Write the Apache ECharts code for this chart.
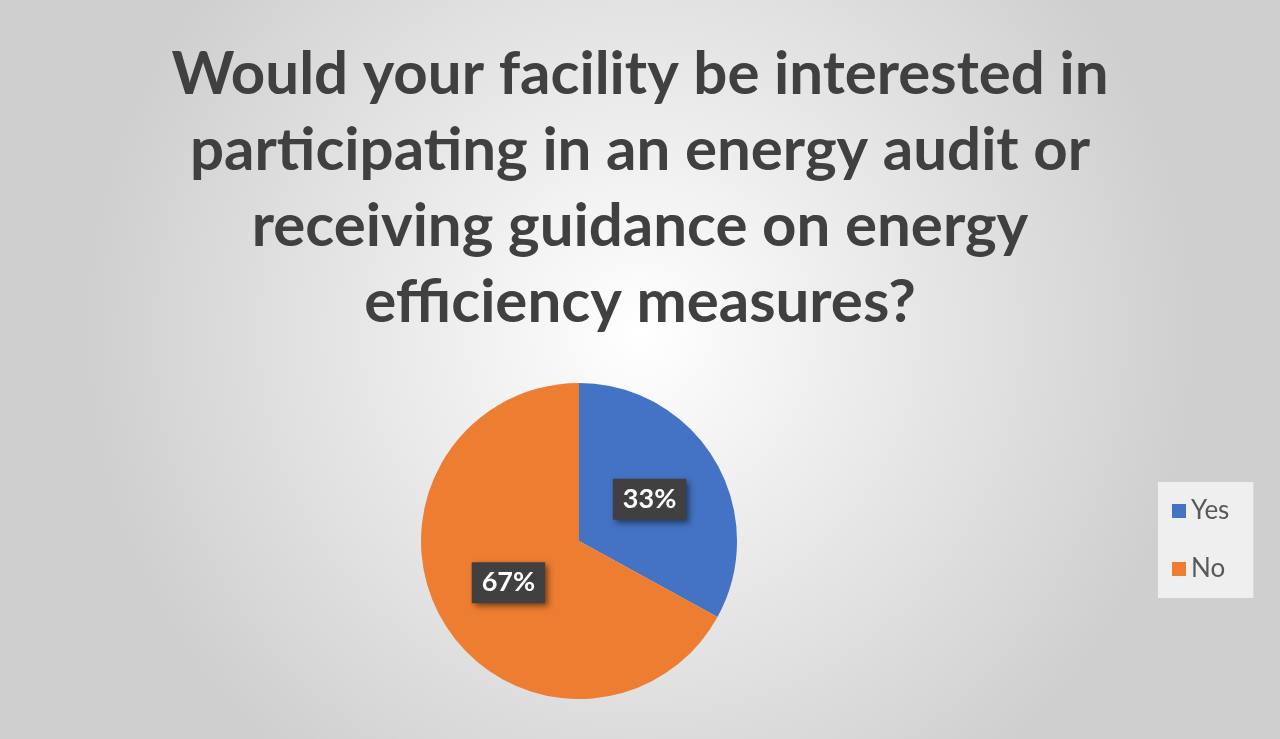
<!DOCTYPE html>
<html><head><meta charset="utf-8">
<script src="https://cdn.jsdelivr.net/npm/echarts@6/dist/echarts.min.js"></script>
<style>html,body{margin:0;padding:0;}#c{width:1280px;height:739px;}</style>
</head><body><div id="c"></div>
<script>
const titleText = "Would your facility be interested in\nparticipating in an energy audit or\nreceiving guidance on energy\nefficiency measures?";
const categories = ["Yes", "No"];
const values = [33, 67];
const colors = ["#4472C4", "#ED7D31"];
const chart = echarts.init(document.getElementById('c'));
chart.setOption({
  backgroundColor: {type:'radial', x:0.5, y:0.45, r:0.75, colorStops:[{offset:0,color:'#ffffff'},{offset:1,color:'#cfcfcf'}]},
  title: {text:titleText, left:'center', top:32, textStyle:{fontFamily:'Lato', fontWeight:'bold', fontSize:60, lineHeight:76, color:'#404040'}},
  legend: {orient:'vertical', left:1158, top:482, padding:[16,24,16,14], itemGap:32,
    backgroundColor:'rgba(242,242,242,0.9)', icon:'rect', itemWidth:14, itemHeight:14,
    textStyle:{fontFamily:'Lato', fontSize:26, color:'#595959'}, data:categories},
  series: [{type:'pie', center:[579,541], radius:158, startAngle:90, clockwise:true,
    data: categories.map((c,i)=>({name:c, value:values[i], itemStyle:{color:colors[i]}})),
    label:{show:true, position:'inside', formatter:p=>p.value+'%', color:'#fff', fontFamily:'Lato', fontWeight:'bold', fontSize:27,
      backgroundColor:'#404040', padding:[8,10,6,10], shadowColor:'rgba(0,0,0,0.5)', shadowBlur:6, shadowOffsetX:3, shadowOffsetY:3},
    labelLine:{show:false}, emphasis:{disabled:true}, animation:false}]
});
</script></body></html>
